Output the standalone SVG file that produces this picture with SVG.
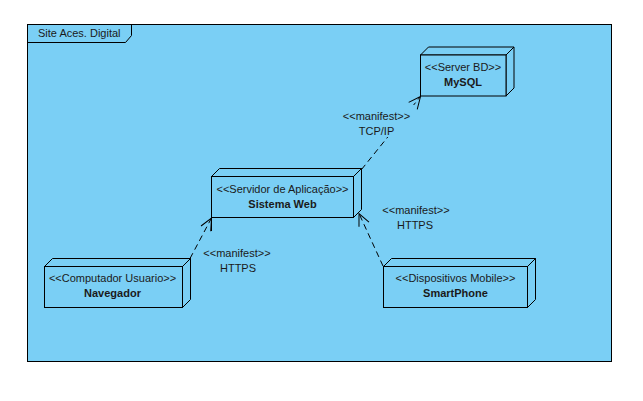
<svg xmlns="http://www.w3.org/2000/svg" width="643" height="401" viewBox="0 0 643 401">
<style>
.frame{fill:#7ACFF5;stroke:#000;stroke-width:1}
.node{fill:#7ACFF5;stroke:#000;stroke-width:1;stroke-linejoin:miter}
.st{font-family:"Liberation Sans",Arial,sans-serif;font-size:11px;fill:#1a1a1a;text-anchor:middle}
.nm{font-family:"Liberation Sans",Arial,sans-serif;font-size:11px;font-weight:bold;fill:#1a1a1a;text-anchor:middle}
.lbl{font-family:"Liberation Sans",Arial,sans-serif;font-size:11px;fill:#1a1a1a;text-anchor:middle}
.dep{fill:none;stroke:#000;stroke-width:1;stroke-dasharray:6,4;marker-end:url(#open)}
</style>
<defs>
<marker id="open" markerUnits="userSpaceOnUse" viewBox="-14 -7 16 14" refX="0" refY="0" markerWidth="16" markerHeight="14" orient="auto">
<path d="M-12,-5.5 L0,0 L-12,5.5" fill="none" stroke="#000" stroke-width="1" stroke-dasharray="none"/>
</marker>
</defs>
<rect width="643" height="401" fill="#fff"/>
<g id="frame">
<rect class="frame" x="27.5" y="24.5" width="584" height="337"/>
<path d="M27.5,42.5 H125.5 L131.5,35.5 V24.5" fill="none" stroke="#000" stroke-width="1"/>
<text x="38" y="37" font-family="'Liberation Sans',Arial,sans-serif" font-size="11" fill="#1a1a1a">Site Aces. Digital</text>
</g>
<g id="connectors">
<path class="dep" d="M361.5,169.5 L420.5,96.5"/>
<path class="dep" d="M190,258.5 L211.5,218"/>
<path d="M211.5,218 V231" stroke="#000" stroke-width="1"/>
<path class="dep" d="M383,266 L359,213.5"/>
<rect x="342" y="105" width="73" height="32" fill="#7ACFF5"/>
<text class="lbl" x="376.5" y="119.5">&lt;&lt;manifest&gt;&gt;</text>
<text class="lbl" x="376.5" y="135">TCP/IP</text>
<text class="lbl" x="237" y="257">&lt;&lt;manifest&gt;&gt;</text>
<text class="lbl" x="238" y="272">HTTPS</text>
<text class="lbl" x="416" y="214">&lt;&lt;manifest&gt;&gt;</text>
<text class="lbl" x="415" y="229">HTTPS</text>
</g>
<g id="mysql">
<path class="node" d="M420.5,55 l8,-8 h85.5 l-8,8 z M506,55 l8,-8 v41 l-8,8 z"/>
<rect class="node" x="420.5" y="55" width="85.5" height="41"/>
<text class="st" x="463" y="70.5">&lt;&lt;Server BD&gt;&gt;</text>
<text class="nm" x="463" y="86">MySQL</text>
</g>
<g id="sistema-web">
<path class="node" d="M211.5,176.5 l8,-8 h142 l-8,8 z M353.5,176.5 l8,-8 v41 l-8,8 z"/>
<rect class="node" x="211.5" y="176.5" width="142" height="41"/>
<text class="st" x="282.5" y="193">&lt;&lt;Servidor de Aplicação&gt;&gt;</text>
<text class="nm" x="282.5" y="208">Sistema Web</text>
</g>
<g id="navegador">
<path class="node" d="M44.5,266.5 l8,-8 h138 l-8,8 z M182.5,266.5 l8,-8 v41 l-8,8 z"/>
<rect class="node" x="44.5" y="266.5" width="138" height="41"/>
<text class="st" x="112.5" y="282">&lt;&lt;Computador Usuario&gt;&gt;</text>
<text class="nm" x="112.5" y="297">Navegador</text>
</g>
<g id="smartphone">
<path class="node" d="M383.5,266.5 l8,-8 h144 l-8,8 z M527.5,266.5 l8,-8 v41 l-8,8 z"/>
<rect class="node" x="383.5" y="266.5" width="144" height="41"/>
<text class="st" x="455.5" y="282">&lt;&lt;Dispositivos Mobile&gt;&gt;</text>
<text class="nm" x="455.5" y="297">SmartPhone</text>
</g>
</svg>
